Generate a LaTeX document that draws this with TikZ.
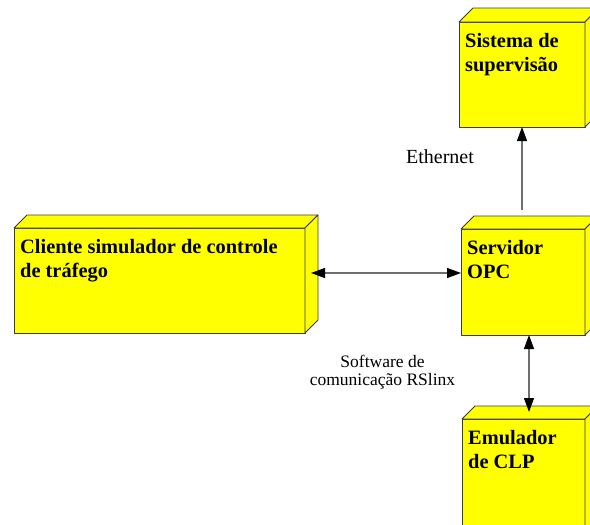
\documentclass[tikz,border=0pt]{standalone}
\usepackage{fontspec}
\setmainfont{Liberation Serif}
\usetikzlibrary{arrows.meta,calc}
\definecolor{boxyellow}{RGB}{255,255,0}
\definecolor{edgegray}{RGB}{60,60,60}
\definecolor{linegray}{RGB}{110,110,110}
\tikzset{
  face/.style={fill=boxyellow, draw=edgegray, line width=0.8pt, line join=round},
  front/.style={face, rectangle, inner sep=0pt, outer sep=0pt, anchor=north west},
  boxtext/.style={font=\fontsize{20.4}{23.5}\selectfont\bfseries, align=left, inner sep=0pt, anchor=north west},
  conn/.style={draw=linegray, line width=1.2pt},
  dbl/.style={{Triangle[length=14pt,width=10pt,color=black]}-{Triangle[length=14pt,width=10pt,color=black]}},
  single/.style={-{Triangle[length=14pt,width=10pt,color=black]}},
  lblbig/.style={font=\fontsize{20}{24}\selectfont, inner sep=0pt},
  lblsmall/.style={font=\fontsize{17.5}{18.5}\selectfont, inner sep=0pt, align=center}
}
\newcommand\cubeparts[2]{%
  \draw[face] (#1.north west) -- ++(#2,-#2) -- ($(#1.north east)+(#2,-#2)$) -- (#1.north east) -- cycle;
  \draw[face] (#1.north east) -- ++(#2,-#2) -- ($(#1.south east)+(#2,-#2)$) -- (#1.south east) -- cycle;
}
\begin{document}
\begin{tikzpicture}[x=1pt,y=-1pt]
  \fill[white] (0,0) rectangle (590,525);
  \useasboundingbox (0,0) rectangle (590,525);

  % boxes
  \node[front, minimum width=291pt, minimum height=105pt] (cli) at (14,228) {};
  \cubeparts{cli}{13}
  \node[front, minimum width=126pt, minimum height=105pt] (sis) at (459,22) {};
  \cubeparts{sis}{14}
  \node[front, minimum width=124pt, minimum height=106pt] (srv) at (461,229) {};
  \cubeparts{srv}{13}
  \node[front, minimum width=123pt, minimum height=121pt] (emu) at (462,419) {};
  \cubeparts{emu}{13}

  % box texts
  \node[boxtext] (clit) at ($(cli.north west)+(6,11.3)$) {Cliente simulador de controle\\de tráfego};
  \node[boxtext] (sist) at ($(sis.north west)+(6,11.3)$) {Sistema de\\supervisão};
  \node[boxtext] (srvt) at ($(srv.north west)+(6,11.3)$) {Servidor\\OPC};
  \node[boxtext] (emut) at ($(emu.north west)+(6,11.3)$) {Emulador\\de CLP};

  % connectors
  \coordinate (cliA) at ($(cli.east)+(6,-7.5)$);
  \draw[conn, dbl] (cliA) -- (cliA -| srv.west);

  \coordinate (sA) at ($(srv.south)+(6,0)$);
  \coordinate (emuTip) at ($(emu.north)+(0,-7)$);
  \draw[conn, dbl] (sA) -- (sA |- emuTip);

  \coordinate (ethB) at ($(srv.north)+(0,-19.5)$);
  \draw[conn, single] (sis.south |- ethB) -- (sis.south);

  % labels
  \node[lblbig, anchor=base] (eth) at (440,163.3) {Ethernet};
  \node[lblsmall, anchor=north] (sw) at (382.5,354.5) {Software de\\comunicação RSlinx};
\end{tikzpicture}
\end{document}
